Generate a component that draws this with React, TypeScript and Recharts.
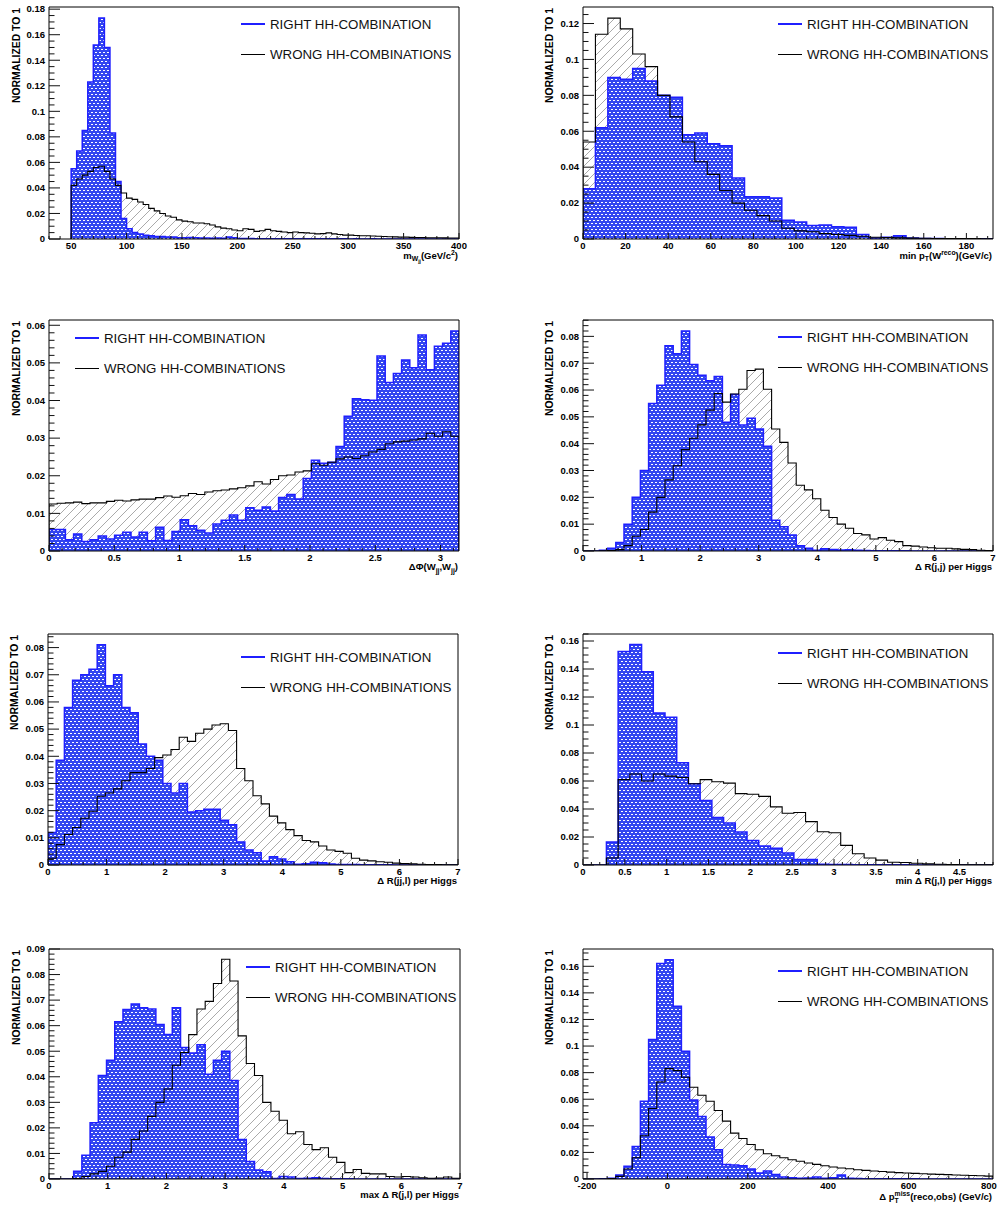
import React from "react";
import { ComposedChart, Area, Line, XAxis, YAxis, ReferenceArea } from "recharts";

// bin contents, one value per bin

const MWJJ_RIGHT = [
  0.055, 0.069, 0.085, 0.123, 0.152, 0.173, 0.150, 0.083, 0.045, 0.016,
  0.008, 0.005, 0.004, 0.003, 0.0025, 0.002, 0.002, 0.0015, 0.0015, 0.001,
  0.001, 0.0012, 0.001, 0.0008, 0.0008, 0.0006, 0.0007, 0.0005, 0.0015, 0.001,
  0.0004, 0.0003, 0.0003, 0.0002, 0.0002, 0.0002, 0.0002, 0.0001, 0.0002, 0.0001,
  0.0001, 0.0001, 0.0001, 0.0001, 0.0001, 0.0001, 0.0001, 0.0001, 0.0001, 0.0001,
  0, 0.0001, 0, 0, 0.0001, 0, 0, 0, 0, 0,
  0, 0, 0, 0, 0, 0, 0, 0, 0, 0,
];
const MWJJ_WRONG = [
  0.042, 0.047, 0.050, 0.053, 0.056, 0.057, 0.053, 0.047, 0.042, 0.036,
  0.032, 0.031, 0.029, 0.027, 0.024, 0.022, 0.020, 0.018, 0.017, 0.015,
  0.014, 0.0135, 0.0125, 0.0125, 0.012, 0.011, 0.0095, 0.0085, 0.008, 0.007,
  0.0065, 0.008, 0.0075, 0.006, 0.0065, 0.0075, 0.0065, 0.006, 0.0055, 0.005,
  0.0055, 0.005, 0.0048, 0.0045, 0.004, 0.0042, 0.0048, 0.004, 0.0035, 0.003,
  0.003, 0.0028, 0.0025, 0.0025, 0.0023, 0.0022, 0.002, 0.0018, 0.0017, 0.0015,
  0.0015, 0.0013, 0.0012, 0.0012, 0.001, 0.001, 0.001, 0.0009, 0.0008, 0.0008,
];

const MINPT_RIGHT = [
  0.028, 0.062, 0.090, 0.089, 0.095, 0.088, 0.080, 0.079, 0.058, 0.059,
  0.053, 0.052, 0.034, 0.0235, 0.0235, 0.0228, 0.0105, 0.0095, 0.0075, 0.0078,
  0.0068, 0.0065, 0.0025, 0.0005, 0.001, 0.0018, 0.0005, 0.0003, 0.0003, 0.0002,
  0.0002, 0.0001, 0.0001,
];
const MINPT_WRONG = [
  0.054, 0.114, 0.123, 0.117, 0.103, 0.096, 0.080, 0.068, 0.054, 0.043,
  0.036, 0.027, 0.020, 0.016, 0.013, 0.010, 0.006, 0.0045, 0.004, 0.003,
  0.0025, 0.002, 0.0015, 0.001, 0.0008, 0.0006, 0.0005, 0.0004, 0.0003, 0.0003,
  0.0002, 0.0002, 0.0001,
];

const DPHI_RIGHT = [
  0.0057, 0.0057, 0.003, 0.0045, 0.0025, 0.003, 0.004, 0.0032, 0.0042, 0.005,
  0.0037, 0.005, 0.0027, 0.0063, 0.0028, 0.0052, 0.0083, 0.0067, 0.0055, 0.0048,
  0.0072, 0.0082, 0.0096, 0.0082, 0.0115, 0.0108, 0.0117, 0.0106, 0.0142, 0.015,
  0.0138, 0.0193, 0.0241, 0.0233, 0.0236, 0.0278, 0.0358, 0.0405, 0.0402, 0.0401,
  0.0518, 0.0448, 0.0472, 0.0508, 0.0487, 0.0574, 0.0482, 0.0544, 0.0552, 0.0585,
];
const DPHI_WRONG = [
  0.0125, 0.0127, 0.0128, 0.0130, 0.0126, 0.0128, 0.0128, 0.0132, 0.0135, 0.0133,
  0.0136, 0.0138, 0.0138, 0.0142, 0.0146, 0.0143, 0.0147, 0.0153, 0.0150, 0.0157,
  0.0160, 0.0162, 0.0165, 0.0168, 0.0173, 0.0184, 0.0178, 0.0190, 0.0200, 0.0202,
  0.0210, 0.0213, 0.0232, 0.0228, 0.0236, 0.0245, 0.0250, 0.0246, 0.0253, 0.0263,
  0.0270, 0.0285, 0.0290, 0.0292, 0.0295, 0.0298, 0.0313, 0.0305, 0.0317, 0.0305,
];

const DRJJ_RIGHT = [
  0, 0, 0.0003, 0.001, 0.0032, 0.010, 0.020, 0.030, 0.055, 0.0618,
  0.0765, 0.0735, 0.082, 0.0695, 0.0655, 0.0635, 0.065, 0.048, 0.0583, 0.047,
  0.0495, 0.0455, 0.039, 0.0115, 0.009, 0.006, 0.002, 0.001, 0.0003, 0.0008,
  0.0006, 0.0004, 0.0005, 0.0003, 0.0002, 0.0001, 0.0001, 0.0001, 0.0001, 0.0001,
  0, 0, 0, 0, 0, 0, 0, 0, 0, 0,
];
const DRJJ_WRONG = [
  0, 0, 0.0001, 0.0002, 0.0005, 0.002, 0.0055, 0.008, 0.0145, 0.020,
  0.0265, 0.0318, 0.0378, 0.042, 0.047, 0.0525, 0.0587, 0.0555, 0.0585, 0.0603,
  0.0673, 0.0678, 0.0603, 0.0455, 0.0405, 0.0328, 0.0245, 0.0228, 0.0195, 0.0152,
  0.0125, 0.010, 0.0085, 0.0065, 0.006, 0.0045, 0.005, 0.004, 0.0035, 0.002,
  0.0018, 0.0015, 0.0012, 0.001, 0.001, 0.0008, 0.0006, 0.0005, 0.0003, 0.0002,
];

const DRJJL_RIGHT = [
  0.012, 0.0385, 0.058, 0.068, 0.070, 0.072, 0.081, 0.066, 0.070, 0.058,
  0.056, 0.0445, 0.040, 0.0385, 0.030, 0.0265, 0.030, 0.0195, 0.020, 0.0205,
  0.0205, 0.0165, 0.0148, 0.0085, 0.0055, 0.0045, 0.0015, 0.003, 0.0022, 0.0012,
  0.0003, 0.0005, 0.001, 0.0008, 0.0004, 0.0002, 0.0002, 0.0002, 0.0001, 0.0001,
  0.0001, 0.0001, 0, 0, 0, 0, 0, 0, 0, 0,
];
const DRJJL_WRONG = [
  0.0025, 0.0075, 0.0112, 0.0138, 0.0172, 0.0198, 0.0253, 0.0265, 0.028, 0.031,
  0.034, 0.034, 0.0355, 0.0395, 0.0405, 0.0425, 0.047, 0.0455, 0.0485, 0.050,
  0.0515, 0.052, 0.0495, 0.0355, 0.031, 0.0255, 0.0225, 0.018, 0.0155, 0.013,
  0.0108, 0.009, 0.0085, 0.007, 0.0055, 0.005, 0.0043, 0.0025, 0.0018, 0.0015,
  0.0012, 0.001, 0.0007, 0.0005, 0.0004, 0.0003, 0.0002, 0.0002, 0.0001, 0.0001,
];

const MINDR_RIGHT = [
  0, 0, 0.0165, 0.1525, 0.1575, 0.138, 0.1085, 0.1055, 0.073, 0.058,
  0.046, 0.034, 0.030, 0.0235, 0.0175, 0.0135, 0.012, 0.0085, 0.004, 0.004,
  0.0005, 0.0003, 0.0003, 0.0002, 0.0002, 0.0001, 0.0001, 0.0001, 0, 0,
  0, 0, 0, 0, 0,
];
const MINDR_WRONG = [
  0, 0, 0.005, 0.061, 0.065, 0.060, 0.065, 0.0635, 0.0625, 0.058,
  0.061, 0.0595, 0.0585, 0.051, 0.0505, 0.049, 0.0415, 0.037, 0.0375, 0.031,
  0.0238, 0.023, 0.014, 0.008, 0.005, 0.0035, 0.002, 0.0018, 0.0012, 0.0008,
  0.0005, 0.0003, 0.0002, 0.0001, 0.0001,
];

const MAXDR_RIGHT = [
  0, 0, 0, 0.003, 0.0093, 0.022, 0.0405, 0.0465, 0.0615, 0.0663,
  0.0685, 0.067, 0.0665, 0.0605, 0.0565, 0.067, 0.0515, 0.0493, 0.0525, 0.041,
  0.0465, 0.050, 0.0385, 0.0155, 0.0068, 0.0035, 0.0028, 0.0002, 0.001, 0.0008,
  0.0002, 0.0003, 0.0005, 0.0002, 0.0001, 0.0001, 0.0001, 0, 0, 0,
  0, 0, 0, 0, 0, 0, 0, 0, 0, 0,
];
const MAXDR_WRONG = [
  0, 0, 0, 0.0002, 0.001, 0.002, 0.003, 0.005, 0.0085, 0.0105,
  0.0155, 0.0188, 0.0245, 0.030, 0.0352, 0.0445, 0.0495, 0.0565, 0.0665, 0.0695,
  0.0765, 0.086, 0.0775, 0.056, 0.0452, 0.0405, 0.030, 0.0265, 0.023, 0.0177,
  0.0185, 0.0135, 0.0115, 0.0122, 0.0085, 0.0065, 0.0025, 0.0037, 0.0022, 0.002,
  0.002, 0.001, 0.0008, 0.001, 0.0008, 0.0005, 0.0003, 0.0004, 0.0008, 0.0003,
];

const DPT_RIGHT = [
  0, 0, 0.0002, 0.0005, 0.003, 0.0095, 0.0245, 0.0585, 0.105, 0.162,
  0.165, 0.130, 0.096, 0.0595, 0.047, 0.0315, 0.022, 0.011, 0.0105, 0.010,
  0.0075, 0.0045, 0.006, 0.0033, 0.0015, 0.001, 0.0005, 0.0008, 0.0015, 0.0005,
  0.001, 0.003, 0.0005, 0.0003, 0.0002, 0.0002, 0.0001, 0.0001, 0.0001, 0.0001,
  0.0001, 0, 0, 0, 0, 0, 0, 0, 0, 0,
];
const DPT_WRONG = [
  0, 0, 0, 0.0003, 0.002, 0.0075, 0.016, 0.0325, 0.053, 0.073,
  0.083, 0.0815, 0.0765, 0.069, 0.063, 0.0585, 0.0515, 0.0435, 0.0345, 0.0305,
  0.026, 0.022, 0.019, 0.0175, 0.016, 0.0145, 0.0133, 0.012, 0.011, 0.010,
  0.009, 0.0083, 0.0077, 0.007, 0.0065, 0.006, 0.0056, 0.0052, 0.0048, 0.0045,
  0.0042, 0.004, 0.0037, 0.0035, 0.0033, 0.003, 0.0028, 0.0026, 0.0024, 0.0022,
];

// tick labels
const MWJJ_XTICKS = [50, 100, 150, 200, 250, 300, 350, 400];
const MINPT_XTICKS = [0, 20, 40, 60, 80, 100, 120, 140, 160, 180];
const DPHI_XTICKS = [0, 0.5, 1, 1.5, 2, 2.5, 3];
const DR_XTICKS = [0, 1, 2, 3, 4, 5, 6, 7];
const MINDR_XTICKS = [0, 0.5, 1, 1.5, 2, 2.5, 3, 3.5, 4, 4.5];
const DPT_XTICKS = [-200, 0, 200, 400, 600, 800];

const Y_018 = [0, 0.02, 0.04, 0.06, 0.08, 0.1, 0.12, 0.14, 0.16, 0.18];
const Y_012 = [0, 0.02, 0.04, 0.06, 0.08, 0.1, 0.12];
const Y_016 = [0, 0.02, 0.04, 0.06, 0.08, 0.1, 0.12, 0.14, 0.16];
const Y_006 = [0, 0.01, 0.02, 0.03, 0.04, 0.05, 0.06];
const Y_008 = [0, 0.01, 0.02, 0.03, 0.04, 0.05, 0.06, 0.07, 0.08];
const Y_009 = [0, 0.01, 0.02, 0.03, 0.04, 0.05, 0.06, 0.07, 0.08, 0.09];

const RIGHT_LABEL = "RIGHT HH-COMBINATION";
const WRONG_LABEL = "WRONG HH-COMBINATIONS";
const Y_TITLE = "NORMALIZED TO 1";

const FONT = '"Liberation Sans", Arial, Helvetica, sans-serif';
const BLUE = "#1f1fff";

const sub = { fontSize: "0.72em", verticalAlign: "-0.4em" } as const;
const sup = { fontSize: "0.72em", verticalAlign: "0.55em" } as const;

type PanelCfg = {
  id: string;
  fx: number; fy: number; fw: number; fh: number; mr: number;
  x0: number; bw: number;
  right: number[]; wrong: number[];
  xDomain: [number, number]; xMajor: number[]; xMinor: number;
  yMax: number; yMajor: number[]; yMinor: number;
  legend: [number, number];
  yTitleX: number;
  xTitle: React.ReactNode;
};

const PANELS: PanelCfg[] = [
  {
    id: "mwjj", fx: 49, fy: 7, fw: 410, fh: 232, mr: 14, x0: 50, bw: 5,
    right: MWJJ_RIGHT, wrong: MWJJ_WRONG,
    xDomain: [30, 400], xMajor: MWJJ_XTICKS, xMinor: 10,
    yMax: 0.1817, yMajor: Y_018, yMinor: 0.005,
    legend: [241, 24], yTitleX: 17,
    xTitle: <>m<span style={sub}>W<span style={sub}>jj</span></span>(GeV/c<span style={sup}>2</span>)</>,
  },
  {
    id: "minpt", fx: 583, fy: 7, fw: 410, fh: 232, mr: 6, x0: 0, bw: 350 / 60,
    right: MINPT_RIGHT, wrong: MINPT_WRONG,
    xDomain: [0, 192.5], xMajor: MINPT_XTICKS, xMinor: 5,
    yMax: 0.1292, yMajor: Y_012, yMinor: 0.005,
    legend: [778, 24], yTitleX: 550,
    xTitle: <>min p<span style={sub}>T</span>(W<span style={sup}>reco</span>)(GeV/c)</>,
  },
  {
    id: "dphi", fx: 49, fy: 320, fw: 410, fh: 231, mr: 14, x0: 0, bw: Math.PI / 50,
    right: DPHI_RIGHT, wrong: DPHI_WRONG,
    xDomain: [0, Math.PI], xMajor: DPHI_XTICKS, xMinor: 0.1,
    yMax: 0.0614, yMajor: Y_006, yMinor: 0.002,
    legend: [75, 338], yTitleX: 17,
    xTitle: <>ΔΦ(W<span style={sub}>jj</span>,W<span style={sub}>jj</span>)</>,
  },
  {
    id: "drjj", fx: 583, fy: 320, fw: 410, fh: 231, mr: 6, x0: 0, bw: 0.14,
    right: DRJJ_RIGHT, wrong: DRJJ_WRONG,
    xDomain: [0, 7], xMajor: DR_XTICKS, xMinor: 0.2,
    yMax: 0.0861, yMajor: Y_008, yMinor: 0.002,
    legend: [778, 337], yTitleX: 550,
    xTitle: <>Δ R(j,j) per Higgs</>,
  },
  {
    id: "drjjl", fx: 48, fy: 634, fw: 410, fh: 231, mr: 14, x0: 0, bw: 0.14,
    right: DRJJL_RIGHT, wrong: DRJJL_WRONG,
    xDomain: [0, 7], xMajor: DR_XTICKS, xMinor: 0.2,
    yMax: 0.085, yMajor: Y_008, yMinor: 0.002,
    legend: [241, 657], yTitleX: 15,
    xTitle: <>Δ R(jj,l) per Higgs</>,
  },
  {
    id: "mindr", fx: 583, fy: 634, fw: 410, fh: 231, mr: 6, x0: 0, bw: 0.14,
    right: MINDR_RIGHT, wrong: MINDR_WRONG,
    xDomain: [0, 4.9], xMajor: MINDR_XTICKS, xMinor: 0.1,
    yMax: 0.165, yMajor: Y_016, yMinor: 0.005,
    legend: [778, 653], yTitleX: 550,
    xTitle: <>min Δ R(j,l) per Higgs</>,
  },
  {
    id: "maxdr", fx: 49, fy: 949, fw: 411, fh: 230, mr: 14, x0: 0, bw: 0.14,
    right: MAXDR_RIGHT, wrong: MAXDR_WRONG,
    xDomain: [0, 7], xMajor: DR_XTICKS, xMinor: 0.2,
    yMax: 0.09, yMajor: Y_009, yMinor: 0.002,
    legend: [246, 967], yTitleX: 17,
    xTitle: <>max Δ R(j,l) per Higgs</>,
  },
  {
    id: "dpt", fx: 583, fy: 949, fw: 410, fh: 230, mr: 6, x0: -210, bw: 20.4,
    right: DPT_RIGHT, wrong: DPT_WRONG,
    xDomain: [-210, 810], xMajor: DPT_XTICKS, xMinor: 50,
    yMax: 0.173, yMajor: Y_016, yMinor: 0.005,
    legend: [778, 971], yTitleX: 550,
    xTitle: (
      <>
        Δ p
        <span style={{ display: "inline-block", verticalAlign: "-0.45em", fontSize: "0.72em", lineHeight: 1.05, textAlign: "left" }}>
          <span style={{ display: "block" }}>miss</span>
          <span style={{ display: "block" }}>T</span>
        </span>
        (reco,obs) (GeV/c)
      </>
    ),
  },
];

const round = (v: number) => Math.round(v * 1e6) / 1e6;
const fmt = (v: number) => String(round(v));

function withMinors(lo: number, hi: number, step: number, majors: number[]) {
  const out = new Set<number>(majors.map(round));
  const first = Math.ceil(lo / step - 1e-9);
  for (let k = first; k * step <= hi + 1e-9; k++) out.add(round(k * step));
  return [...out].filter((v) => v >= lo - 1e-9 && v <= hi + 1e-9).sort((a, b) => a - b);
}

function toRows(x0: number, bw: number, right: number[], wrong: number[]) {
  const n = right.length;
  const rows = [{ x: x0, r: 0, w: 0 }];
  for (let i = 0; i < n; i++) rows.push({ x: x0 + i * bw, r: right[i], w: wrong[i] });
  rows.push({ x: x0 + n * bw, r: right[n - 1], w: wrong[n - 1] });
  rows.push({ x: x0 + n * bw, r: 0, w: 0 });
  return rows;
}

const isMajor = (v: number, majors: number[]) => majors.some((m) => Math.abs(m - v) < 1e-7);

function XTick(props: any) {
  const { x, y, payload, majors } = props;
  const major = isMajor(payload.value, majors);
  return (
    <g>
      <line x1={x} x2={x} y1={y} y2={y - (major ? 6 : 3)} stroke="#111" strokeWidth={1} />
      {major && (
        <text x={x} y={y + 9.5} textAnchor="middle" fontSize={9.5} fontWeight="bold" fontFamily={FONT} fill="#000">
          {fmt(payload.value)}
        </text>
      )}
    </g>
  );
}

function YTick(props: any) {
  const { x, y, payload, majors } = props;
  const major = isMajor(payload.value, majors);
  return (
    <g>
      <line x1={x} x2={x + (major ? 11 : 5.5)} y1={y} y2={y} stroke="#111" strokeWidth={1} />
      {major && (
        <text x={x - 4} y={y} dy="0.35em" textAnchor="end" fontSize={9.5} fontWeight="bold" fontFamily={FONT} fill="#000">
          {fmt(payload.value)}
        </text>
      )}
    </g>
  );
}

const YW = 46;
const MT = 10;
const XH = 22;

function HistPanel({ p }: { p: PanelCfg }) {
  const rows = toRows(p.x0, p.bw, p.right, p.wrong);
  const xt = withMinors(p.xDomain[0], p.xDomain[1], p.xMinor, p.xMajor);
  const yt = withMinors(0, p.yMax, p.yMinor, p.yMajor);
  const width = YW + p.fw + p.mr;
  const height = MT + p.fh + XH;
  return (
    <>
      <div style={{ position: "absolute", left: p.fx - YW, top: p.fy - MT }}>
        <ComposedChart width={width} height={height} data={rows} margin={{ top: MT, right: p.mr, bottom: 0, left: 0 }}>
          <XAxis
            dataKey="x" type="number" domain={p.xDomain} allowDataOverflow ticks={xt} interval={0}
            axisLine={false} tickLine={false} tickSize={0} tickMargin={0} height={XH}
            tick={(t: any) => <XTick {...t} majors={p.xMajor} />}
          />
          <YAxis
            type="number" domain={[0, p.yMax]} allowDataOverflow ticks={yt} interval={0}
            axisLine={false} tickLine={false} tickSize={0} tickMargin={0} width={YW}
            tick={(t: any) => <YTick {...t} majors={p.yMajor} />}
          />
          <Area type="stepAfter" dataKey="w" stroke="none" fill="url(#hatch)" fillOpacity={1}
            dot={false} activeDot={false} isAnimationActive={false} />
          <Area type="stepAfter" dataKey="r" stroke={BLUE} strokeWidth={1.5} fill="url(#blueDots)" fillOpacity={1}
            dot={false} activeDot={false} isAnimationActive={false} />
          <Line type="stepAfter" dataKey="w" stroke="#000" strokeWidth={1.1}
            dot={false} activeDot={false} isAnimationActive={false} />
          <ReferenceArea x1={p.xDomain[0]} x2={p.xDomain[1]} y1={0} y2={p.yMax}
            fill="none" stroke="#000" strokeWidth={1} ifOverflow="extendDomain" />
        </ComposedChart>
      </div>

      {/* y title, reads bottom to top, ends at the frame top */}
      <div
        style={{
          position: "absolute", left: p.yTitleX, top: p.fy + 1,
          transform: "rotate(-90deg) translate(-100%, -50%)", transformOrigin: "0 0",
          whiteSpace: "nowrap", fontSize: 10.4, fontWeight: "bold", lineHeight: "12px",
        }}
      >
        {Y_TITLE}
      </div>

      {/* x title, right aligned under the axis */}
      <div
        style={{
          position: "absolute", left: p.fx, width: p.fw - 1, top: p.fy + p.fh + 11,
          textAlign: "right", whiteSpace: "nowrap", fontSize: 9.5, fontWeight: "bold", lineHeight: 1,
        }}
      >
        {p.xTitle}
      </div>

      {/* legend */}
      {[
        { label: RIGHT_LABEL, color: BLUE, w: 2, dy: 0 },
        { label: WRONG_LABEL, color: "#000", w: 1, dy: 30 },
      ].map((row) => (
        <div
          key={row.label}
          style={{
            position: "absolute", left: p.legend[0], top: p.legend[1] + row.dy - 9, height: 18,
            display: "flex", alignItems: "center", whiteSpace: "nowrap",
          }}
        >
          <div style={{ width: 24, height: row.w, background: row.color, marginRight: 5 }} />
          <span style={{ fontSize: 13.3, color: "#111" }}>{row.label}</span>
        </div>
      ))}
    </>
  );
}

export default function App() {
  return (
    <div
      style={{
        position: "absolute", left: 0, top: 0, width: 999, height: 1209, overflow: "hidden",
        background: "#fff", fontFamily: FONT, color: "#000",
      }}
    >
      <svg width={0} height={0} style={{ position: "absolute" }}>
        <defs>
          <pattern id="hatch" width={9} height={9} patternUnits="userSpaceOnUse">
            <path d="M0,9 L9,0 M-2,2 L2,-2 M7,11 L11,7" stroke="#a0a0a0" strokeWidth={0.9} />
          </pattern>
          <pattern id="blueDots" width={4} height={6} patternUnits="userSpaceOnUse">
            <rect width={4} height={6} fill="#3346f0" />
            <rect x={0} y={1} width={2} height={1} fill="#ffffff" />
            <rect x={2} y={4} width={2} height={1} fill="#ffffff" />
          </pattern>
        </defs>
      </svg>
      {PANELS.map((p) => (
        <HistPanel key={p.id} p={p} />
      ))}
    </div>
  );
}
